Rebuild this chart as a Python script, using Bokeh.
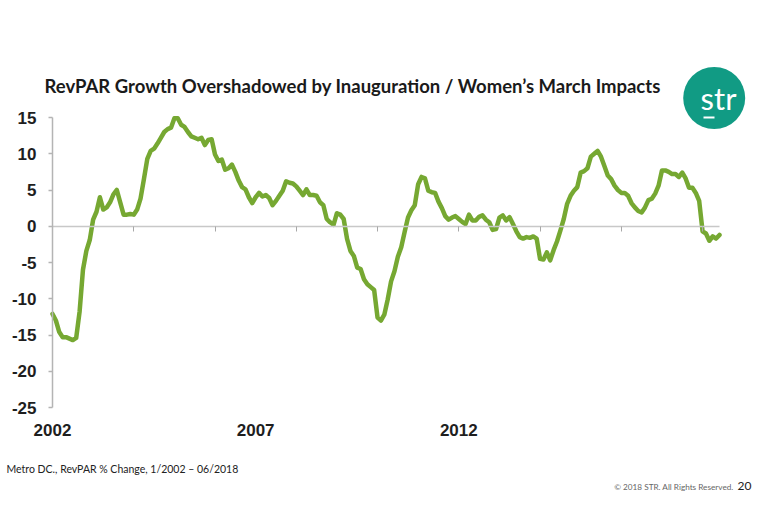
from bokeh.plotting import figure
from bokeh.models import Range1d, LinearAxis, FixedTicker, Label, ColumnDataSource
from bokeh.embed import file_html
from bokeh.resources import INLINE

# ---------------- data ----------------
title_text = "RevPAR Growth Overshadowed by Inauguration / Women\u2019s March Impacts"
source_note = "Metro DC., RevPAR % Change,  1/2002 \u2013 06/2018"
copyright_note = "\u00a9 2018 STR. All Rights Reserved."
page_number = "20"
logo_text = "str"

# monthly RevPAR % change, 1/2002 .. 6/2018
revpar_pct_change = [
    -12.1, -13.0, -14.6, -15.3, -15.3, -15.5, -15.7, -15.4, -11.8, -6.0, -3.4, -1.9,   # 2002
    0.9, 2.0, 4.0, 2.3, 2.6, 3.3, 4.4, 5.0, 3.3, 1.6, 1.6, 1.7,                       # 2003
    1.6, 2.3, 3.8, 6.5, 9.3, 10.4, 10.7, 11.4, 12.2, 13.0, 13.4, 13.6,                # 2004
    14.9, 14.9, 14.0, 13.7, 13.0, 12.4, 12.2, 12.0, 12.2, 11.2, 11.9, 12.0,           # 2005
    9.9, 9.0, 9.2, 7.8, 8.0, 8.5, 7.5, 6.3, 5.4, 5.1, 4.0, 3.2,                       # 2006
    4.0, 4.6, 4.1, 4.3, 3.9, 2.9, 3.5, 4.2, 4.9, 6.2, 6.0, 5.9,                       # 2007
    5.5, 4.9, 4.3, 5.1, 4.3, 4.3, 4.2, 3.3, 2.9, 1.0, 0.55, 0.2,                      # 2008
    1.8, 1.6, 1.0, -1.75, -3.4, -4.1, -5.7, -5.9, -7.3, -8.0, -8.4, -8.8,             # 2009
    -12.6, -13.0, -12.2, -10.1, -7.6, -6.2, -4.2, -2.9, -0.8, 1.2, 2.2, 2.9,          # 2010
    5.8, 6.8, 6.6, 4.9, 4.7, 4.6, 3.4, 2.5, 1.4, 0.9, 1.2, 1.4,                       # 2011
    1.0, 0.6, 0.3, 1.6, 0.8, 0.8, 1.3, 1.5, 0.9, 0.55, -0.5, -0.4,                    # 2012
    1.2, 1.5, 0.8, 1.25, 0.3, -0.7, -1.5, -1.7, -1.5, -1.6, -1.4, -1.7,               # 2013
    -4.5, -4.6, -3.6, -4.7, -3.3, -2.1, -0.6, 1.0, 3.1, 4.2, 4.9, 5.4,                # 2014
    7.4, 7.6, 8.0, 9.6, 10.0, 10.4, 9.6, 8.3, 7.0, 6.5, 5.6, 5.0,                     # 2015
    4.6, 4.6, 4.2, 3.2, 2.6, 2.1, 1.9, 2.6, 3.6, 3.8, 4.5, 5.6,                       # 2016
    7.7, 7.7, 7.5, 7.2, 7.2, 6.8, 7.4, 6.6, 5.3, 5.3, 4.6, 3.5,                       # 2017
    -0.7, -1.0, -2.0, -1.4, -1.7, -1.2,                                               # 2018
]
month_index = list(range(len(revpar_pct_change)))

x_label_months = [0, 60, 120]
x_label_text = ["2002", "2007", "2012"]
zero_line_tick_months = [24, 48, 72, 96, 120, 144, 168, 192]
y_ticks = [-25, -20, -15, -10, -5, 0, 5, 10, 15]
y_tick_text = ["-25", "-20", "-15", "-10", "-5", "0", "5", "10", "15"]
y_min, y_max = -25, 15

# ---------------- layout (pixels on the canvas) ----------------
W, H = 752, 508
X0_PX, XN_PX = 52, 719     # first / last month
YT_PX, YB_PX = 117, 407    # y = 15 / y = -25
ppx = (XN_PX - X0_PX) / (len(revpar_pct_change) - 1)
ppy = (YB_PX - YT_PX) / (y_max - y_min)


def fx(px):
    return (px - X0_PX) / ppx


def fy(py):
    return y_max - (py - YT_PX) / ppy


p = figure(
    width=W, height=H,
    x_range=Range1d(fx(0), fx(W)),
    y_range=Range1d(fy(H), fy(0)),
    x_axis_type=None, y_axis_type=None,
    output_backend="svg", toolbar_location=None,
    min_border_left=0, min_border_right=0, min_border_top=0, min_border_bottom=0,
)
p.outline_line_color = None
p.background_fill_color = "white"
p.border_fill_color = "white"

LABEL_FONT = "Liberation Sans"

# y axis at x = first month
yax = LinearAxis(
    fixed_location=0,
    ticker=FixedTicker(ticks=y_ticks),
    major_label_overrides={t: s for t, s in zip(y_ticks, y_tick_text)},
    bounds=(y_min, y_max),
    axis_line_color="#b4b4b4", axis_line_width=1.5,
    major_tick_line_color="#b4b4b4", major_tick_line_width=1.5,
    major_tick_out=4, major_tick_in=0,
    minor_tick_line_color=None,
    major_label_standoff=12,
    major_label_text_font=LABEL_FONT, major_label_text_font_style="bold",
    major_label_text_font_size="17px", major_label_text_color="#1e1e1e",
)
p.add_layout(yax, "left")

# year labels below y = -25
xax = LinearAxis(
    fixed_location=y_min,
    ticker=FixedTicker(ticks=x_label_months),
    major_label_overrides={m: t for m, t in zip(x_label_months, x_label_text)},
    axis_line_color=None, major_tick_line_color=None, minor_tick_line_color=None,
    major_label_standoff=10,
    major_label_text_font=LABEL_FONT, major_label_text_font_style="bold",
    major_label_text_font_size="17px", major_label_text_color="#1e1e1e",
)
p.add_layout(xax, "below")

# zero line with a tick every 24 months
zax = LinearAxis(
    fixed_location=0,
    ticker=FixedTicker(ticks=[], minor_ticks=zero_line_tick_months),
    bounds=(0, len(revpar_pct_change) - 1),
    axis_line_color="#c8c8c8", axis_line_width=1.5,
    major_tick_line_color=None,
    minor_tick_line_color="#a8a8a8", minor_tick_line_width=1,
    minor_tick_out=5, minor_tick_in=0,
)
p.add_layout(zax, "below")

src = ColumnDataSource(dict(month=month_index, pct=revpar_pct_change))
p.line(x="month", y="pct", source=src, line_color="#76a832", line_width=4.5,
       line_join="round", line_cap="round")

# title
p.add_layout(Label(x=fx(44), y=fy(85), text=title_text, text_font="Lato",
                   text_font_style="bold", text_font_size="18.5px",
                   text_color="#1a1a1a", text_baseline="middle", text_align="left"))

# logo
p.scatter(x=[fx(713.7)], y=[fy(97.5)], size=62, marker="circle",
          fill_color="#119b84", line_color=None)
p.add_layout(Label(x=fx(718), y=fy(97), text=logo_text, text_font="Lato",
                   text_font_size="31px", text_color="white",
                   text_baseline="middle", text_align="center"))
p.segment(x0=[fx(703)], y0=[fy(117)], x1=[fx(714)], y1=[fy(117)],
          line_color="white", line_width=2)

# footer
p.add_layout(Label(x=fx(6), y=fy(468), text=source_note, text_font="Lato",
                   text_font_size="10.5px", text_color="#222222",
                   text_baseline="middle", text_align="left"))
p.add_layout(Label(x=fx(733), y=fy(486), text=copyright_note, text_font="Lato",
                   text_font_size="8.2px", text_color="#666666",
                   text_baseline="middle", text_align="right"))
p.add_layout(Label(x=fx(751), y=fy(485), text=page_number, text_font="Lato",
                   text_font_size="12px", text_color="#222222",
                   text_baseline="middle", text_align="right"))

open("out.html", "w").write(file_html(p, INLINE))
